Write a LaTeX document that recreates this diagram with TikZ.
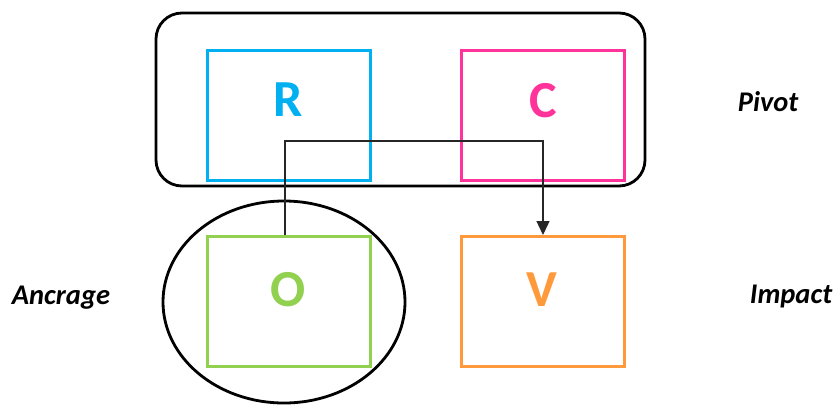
\documentclass[tikz,border=0pt]{standalone}
\usepackage{fontspec}
\setmainfont{Carlito}
\usetikzlibrary{arrows.meta,shapes.geometric}
\definecolor{cblue}{HTML}{00B0F0}
\definecolor{cpink}{HTML}{FF3399}
\definecolor{cgreen}{HTML}{92D050}
\definecolor{corange}{HTML}{FF9A3C}
\tikzset{
  box/.style={draw, line width=3pt, minimum width=163pt, minimum height=130pt, inner sep=0pt},
  letter/.style={font=\fontsize{52}{52}\selectfont\bfseries},
  side/.style={font=\fontsize{28.5}{28.5}\selectfont\bfseries\itshape},
  group/.style={draw=black, line width=2.8pt},
  link/.style={draw=black!85, line width=1.3pt}
}
\begin{document}
\begin{tikzpicture}[x=1pt,y=-1pt]
\useasboundingbox (0,0) rectangle (837,405);
\draw[group, rounded corners=26pt] (156,13) rectangle (645,186);
\node[group, ellipse, minimum width=242pt, minimum height=202pt, inner sep=0pt] (anc) at (284,302) {};
\node[box, draw=cblue] (R) at (288.5,115) {};
\node[box, draw=cpink] (C) at (543,115) {};
\node[box, draw=cgreen] (O) at (288.5,301) {};
\node[box, draw=corange] (V) at (543,301) {};
\node[letter, text=cblue] (Rl) at (288,100) {R};
\node[letter, text=cpink] (Cl) at (543,101) {C};
\node[letter, text=cgreen] (Ol) at (288,290) {O};
\node[letter, text=corange] (Vl) at (542,290) {V};
\coordinate (ostart) at (285,235);
\coordinate (vend) at (543,235);
\draw[link, -{Triangle[length=14pt,width=13pt]}] (ostart) |- (414,141) -| (vend);
\node[side] (piv) at (768,102) {Pivot};
\node[side] (ancl) at (61,298) {Ancrage};
\node[side] (imp) at (791,296) {Impact};
\end{tikzpicture}
\end{document}
